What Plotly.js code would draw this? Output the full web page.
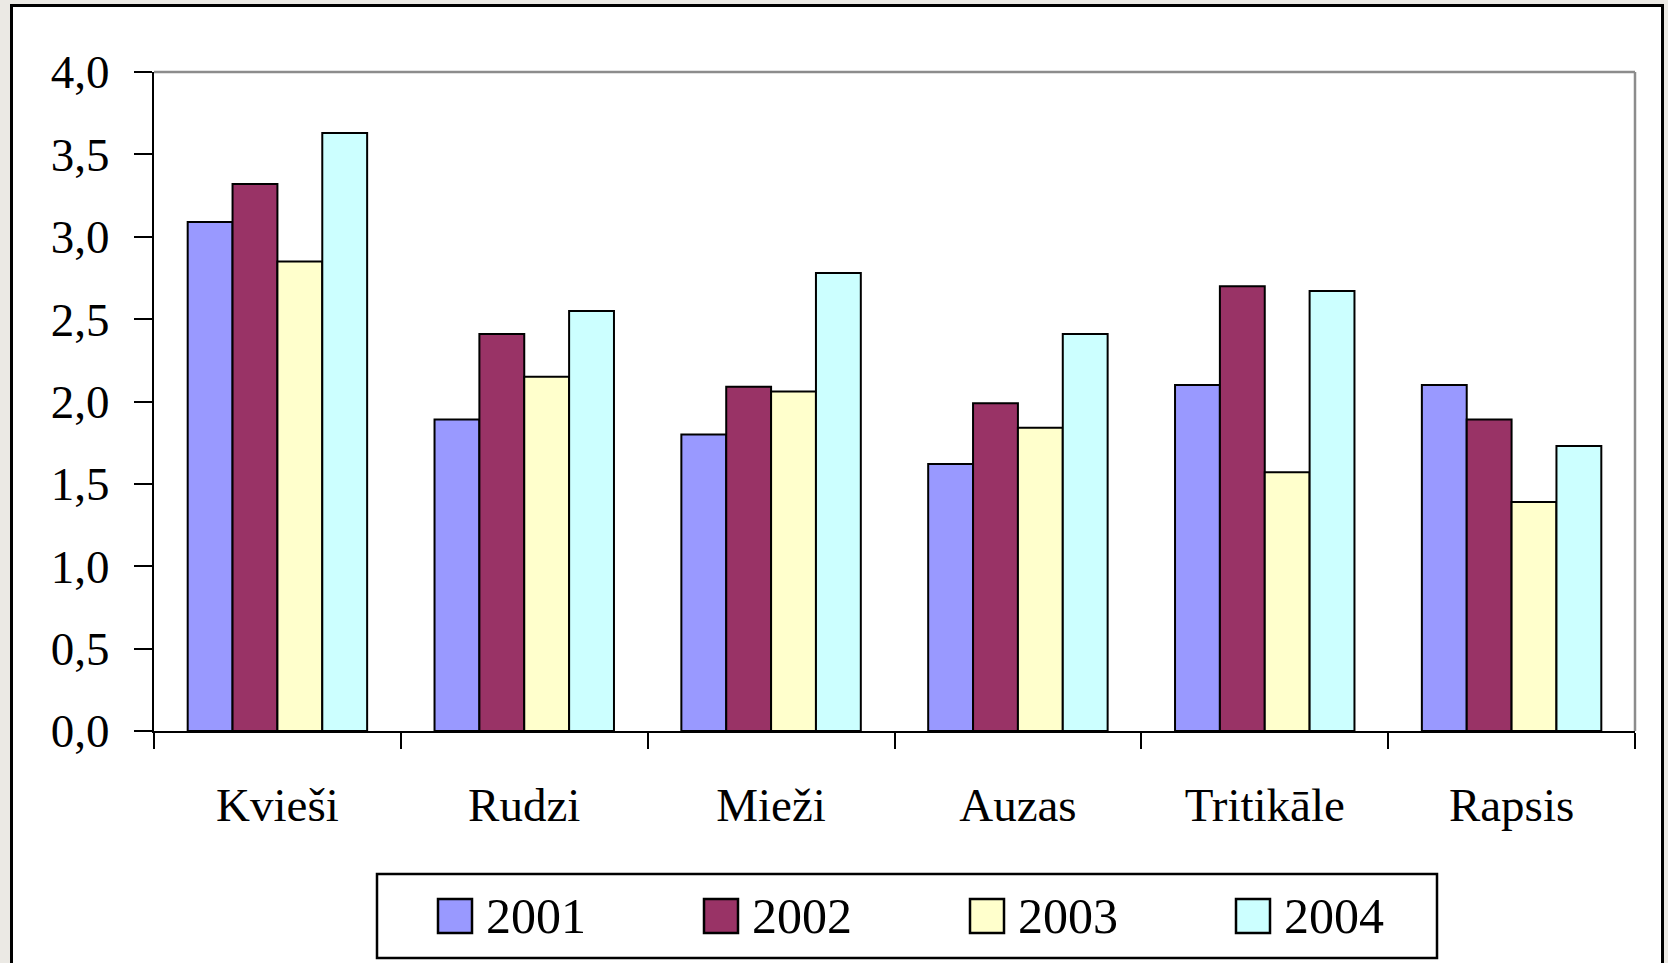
<!DOCTYPE html>
<html>
<head>
<meta charset="utf-8">
<script src="https://cdn.plot.ly/plotly-3.0.1.min.js"></script>
<style>
  html, body { margin: 0; padding: 0; width: 1668px; height: 963px; overflow: hidden; background: #ebe9e4; }
  #frame { position: absolute; left: 10px; top: 4px; width: 1648px; height: 1000px; border: 3px solid #000; background: #fff; }
  #chart { position: absolute; left: 0; top: 0; width: 1668px; height: 963px; }
</style>
</head>
<body>
<div id="frame"></div>
<div id="chart"></div>
<script>
const categories = ['Kvieši', 'Rudzi', 'Mieži', 'Auzas', 'Tritikāle', 'Rapsis'];
const years = ['2001', '2002', '2003', '2004'];
const v2001 = [3.09, 1.89, 1.80, 1.62, 2.10, 2.10];
const v2002 = [3.32, 2.41, 2.09, 1.99, 2.70, 1.89];
const v2003 = [2.85, 2.15, 2.06, 1.84, 1.57, 1.39];
const v2004 = [3.63, 2.55, 2.78, 2.41, 2.67, 1.73];
const seriesValues = [v2001, v2002, v2003, v2004];
const colors = ['#9999FF', '#993366', '#FFFFCC', '#CCFFFF'];

const FONT = '"Liberation Serif", "Times New Roman", serif';
const W = 1668, H = 963;
const M = { l: 154, r: 33, t: 72, b: 232 };
const PW = W - M.l - M.r, PH = H - M.t - M.b;
const px = x => (x - M.l) / PW;
const py = y => (H - M.b - y) / PH;

const traces = years.map((yr, i) => ({
  type: 'bar',
  name: yr,
  x: categories,
  y: seriesValues[i],
  marker: { color: colors[i], line: { color: '#000', width: 2 } },
  showlegend: false,
  hoverinfo: 'x+y+name'
}));

const shapes = [
  { type: 'line', xref: 'paper', yref: 'paper', x0: 0, x1: 1, y0: 1, y1: 1, line: { color: '#8c8c8c', width: 2.5 } },
  { type: 'line', xref: 'paper', yref: 'paper', x0: 1, x1: 1, y0: 0, y1: 1, line: { color: '#8c8c8c', width: 2.5 } },
  { type: 'rect', xref: 'paper', yref: 'paper', x0: px(377), x1: px(1437), y0: py(874), y1: py(958), line: { color: '#000', width: 2.5 }, fillcolor: '#fff', layer: 'below' }
];
const annotations = [];
years.forEach((yr, i) => {
  const sx = 438 + i * 266;
  shapes.push({ type: 'rect', xref: 'paper', yref: 'paper', x0: px(sx), x1: px(sx + 34), y0: py(899), y1: py(933), fillcolor: colors[i], line: { color: '#000', width: 2.5 } });
  annotations.push({ xref: 'paper', yref: 'paper', x: px(sx + 46), y: py(916), xanchor: 'left', yanchor: 'middle', text: yr, showarrow: false, font: { family: FONT, size: 50, color: '#000' } });
});

const layout = {
  width: W, height: H, autosize: false,
  margin: { l: M.l, r: M.r, t: M.t, b: M.b, pad: 0 },
  paper_bgcolor: 'rgba(0,0,0,0)',
  plot_bgcolor: '#fff',
  separators: ', ',
  barmode: 'group',
  bargap: 0.273,
  bargroupgap: 0,
  showlegend: false,
  font: { family: FONT, color: '#000' },
  xaxis: {
    type: 'category',
    range: [-0.5, 5.5],
    showline: true, linecolor: '#000', linewidth: 2,
    ticks: 'outside', tickson: 'boundaries', ticklen: 16, tickwidth: 2, tickcolor: '#000',
    tickfont: { family: FONT, size: 47, color: '#000' },
    ticklabelstandoff: 32,
    showgrid: false, zeroline: false, fixedrange: true
  },
  yaxis: {
    range: [0, 4], dtick: 0.5, tick0: 0, tickformat: '.1f',
    showline: true, linecolor: '#000', linewidth: 2,
    ticks: 'outside', ticklen: 18, tickwidth: 2, tickcolor: '#000',
    tickfont: { family: FONT, size: 47, color: '#000' },
    ticklabelstandoff: 15,
    showgrid: false, zeroline: false, fixedrange: true
  },
  shapes: shapes,
  annotations: annotations
};

Plotly.newPlot('chart', traces, layout, { displayModeBar: false, staticPlot: true });
</script>
</body>
</html>
